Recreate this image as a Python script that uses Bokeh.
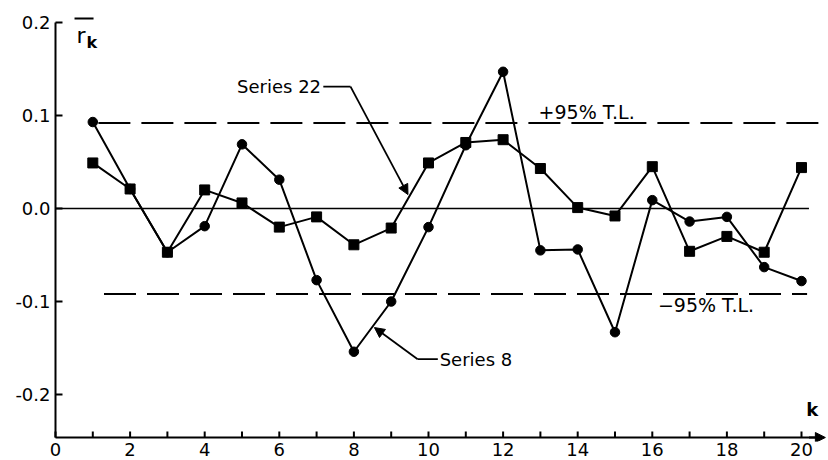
from bokeh.plotting import figure
from bokeh.models import FixedTicker, Label, Arrow, NormalHead
from bokeh.embed import file_html
from bokeh.resources import INLINE

# ---- data ----
k = list(range(1, 21))
series8 = [0.093, 0.021, -0.047, -0.019, 0.069, 0.031, -0.077, -0.154, -0.100, -0.020,
           0.068, 0.147, -0.045, -0.044, -0.133, 0.009, -0.014, -0.009, -0.063, -0.078]
series22 = [0.049, 0.021, -0.047, 0.020, 0.006, -0.020, -0.009, -0.039, -0.021, 0.049,
            0.071, 0.074, 0.043, 0.001, -0.008, 0.045, -0.046, -0.030, -0.047, 0.044]
tl_upper = 0.092
tl_lower = -0.092
x_ticks = [0, 2, 4, 6, 8, 10, 12, 14, 16, 18, 20]
x_minor = [1, 3, 5, 7, 9, 11, 13, 15, 17, 19]
x_tick_labels = ["0", "2", "4", "6", "8", "10", "12", "14", "16", "18", "20"]
y_ticks = [-0.2, -0.1, 0.0, 0.1, 0.2]
y_tick_labels = ["-0.2", "-0.1", "0.0", "0.1", "0.2"]

FONT = "DejaVu Sans"
X0, X1 = -0.0804, 20.724
Y0, Y1 = -0.2505, 0.21075
XAXIS_Y = -0.2462          # level at which the k axis is drawn
YAXIS_TOP = y_ticks[-1]
XAXIS_END = 20.4
PX_X = 1 / 37.3            # data units per pixel (x)
PX_Y = 1 / 930             # data units per pixel (y)

p = figure(width=828, height=460, x_range=(X0, X1), y_range=(Y0, Y1),
           output_backend="svg", toolbar_location=None,
           min_border_left=52, min_border_right=0, min_border_top=12, min_border_bottom=19)
p.xgrid.visible = False
p.ygrid.visible = False
p.outline_line_color = None
p.background_fill_color = "white"
p.border_fill_color = "white"

# bokeh axes only carry the tick labels; axis lines and ticks are drawn below
for ax in (p.xaxis, p.yaxis):
    ax.axis_line_color = None
    ax.major_tick_line_color = None
    ax.minor_tick_line_color = None
    ax.major_tick_in = 0
    ax.major_tick_out = 0
    ax.minor_tick_in = 0
    ax.minor_tick_out = 0
    ax.major_label_text_font = FONT
    ax.major_label_text_font_size = "18px"
    ax.major_label_text_color = "black"

p.xaxis.ticker = FixedTicker(ticks=x_ticks, minor_ticks=[])
p.xaxis.major_label_overrides = {t: s for t, s in zip(x_ticks, x_tick_labels)}
p.xaxis.major_label_standoff = 1
p.yaxis.ticker = FixedTicker(ticks=y_ticks, minor_ticks=[])
p.yaxis.major_label_overrides = {t: s for t, s in zip(y_ticks, y_tick_labels)}
p.yaxis.major_label_standoff = 2

# axis lines
p.segment(x0=[0], y0=[XAXIS_Y], x1=[0], y1=[YAXIS_TOP], line_color="black", line_width=2)
p.segment(x0=[0], y0=[XAXIS_Y], x1=[XAXIS_END], y1=[XAXIS_Y], line_color="black", line_width=2)
p.add_layout(Arrow(end=NormalHead(size=10, fill_color="black", line_color="black", line_width=1),
                   x_start=XAXIS_END - 0.2, y_start=XAXIS_Y, x_end=20.64, y_end=XAXIS_Y,
                   line_width=2, line_color="black"))
# ticks (inside)
p.segment(x0=[0] * len(y_ticks), y0=y_ticks, x1=[7 * PX_X] * len(y_ticks), y1=y_ticks,
          line_color="black", line_width=2)
all_x = x_ticks + x_minor
p.segment(x0=all_x, y0=[XAXIS_Y] * len(all_x), x1=all_x, y1=[XAXIS_Y + 6 * PX_Y] * len(all_x),
          line_color="black", line_width=2)

# zero line and tolerance limits
p.segment(x0=[0], y0=[0], x1=[20.2], y1=[0], line_color="black", line_width=1.6)
p.segment(x0=[1.15], y0=[tl_upper], x1=[20.72], y1=[tl_upper], line_color="black",
          line_width=2, line_dash="32 11")
p.segment(x0=[1.3], y0=[tl_lower], x1=[20.15], y1=[tl_lower], line_color="black",
          line_width=2, line_dash="32 11")

# series
p.line(k, series8, line_color="black", line_width=2)
p.line(k, series22, line_color="black", line_width=2)
p.scatter(k, series8, marker="circle", size=9.5, fill_color="black", line_color="black")
p.scatter(k, series22, marker="square", size=10, fill_color="black", line_color="black")

# leader lines
p.line([7.18, 7.91], [0.131, 0.131], line_color="black", line_width=1.8)
p.add_layout(Arrow(end=NormalHead(size=10, fill_color="black", line_color="black", line_width=1),
                   x_start=7.91, y_start=0.131, x_end=9.45, y_end=0.015,
                   line_width=1.8, line_color="black"))
p.line([10.25, 9.71], [-0.162, -0.162], line_color="black", line_width=1.8)
p.add_layout(Arrow(end=NormalHead(size=10, fill_color="black", line_color="black", line_width=1),
                   x_start=9.71, y_start=-0.162, x_end=8.55, y_end=-0.128,
                   line_width=1.8, line_color="black"))


def lab(x, y, text, align="left", size="18px", style="normal", baseline="middle"):
    p.add_layout(Label(x=x, y=y, text=text, text_font=FONT, text_font_size=size,
                       text_align=align, text_baseline=baseline, text_color="black",
                       text_font_style=style))


lab(7.12, 0.131, "Series 22", align="right")
lab(10.3, -0.162, "Series 8")
lab(12.95, 0.104, "+95% T.L.", size="19px")
lab(16.15, -0.104, "\u221295% T.L.", size="19px")
lab(20.13, -0.216, "k", style="bold")

# axis symbol r-bar sub k
lab(0.56, 0.186, "r", size="22px", baseline="alphabetic")
lab(0.83, 0.1785, "k", size="16px", style="bold", baseline="alphabetic")
p.segment(x0=[0.51], y0=[0.2043], x1=[1.02], y1=[0.2043], line_color="black", line_width=2)

open("out.html", "w").write(file_html(p, INLINE))
